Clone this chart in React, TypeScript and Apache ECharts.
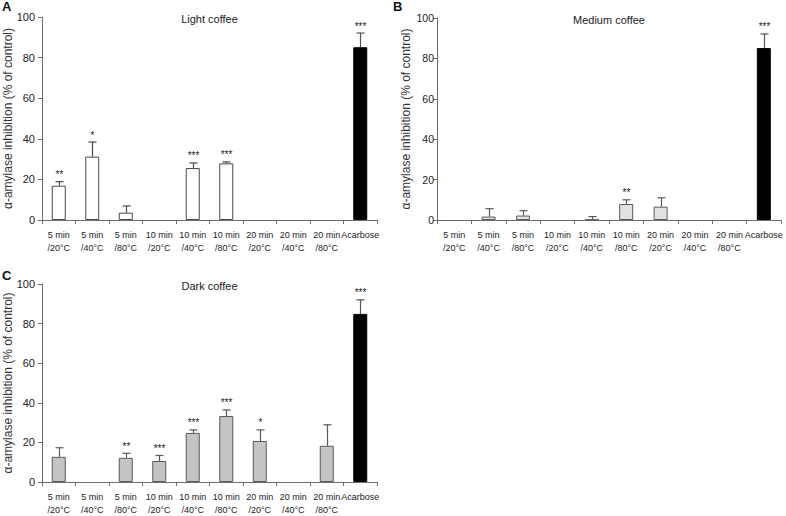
import React, { useEffect, useRef } from "react";
import * as echarts from "echarts";

const categories = [
  "5 min\n/20°C", "5 min\n/40°C", "5 min\n/80°C",
  "10 min\n/20°C", "10 min\n/40°C", "10 min\n/80°C",
  "20 min\n/20°C", "20 min\n/40°C", "20 min\n/80°C", "Acarbose",
];
const yTicks = [0, 20, 40, 60, 80, 100];

const lightValues = [16.9, 31.2, 3.6, 0, 25.6, 27.9, 0, 0, 0, 85.1];
const lightErrTop = [18.9, 38.4, 6.9, null, 28.1, 28.6, null, null, null, 92.1];
const lightStars = ["**", "*", "", "", "***", "***", "", "", "", "***"];

const mediumValues = [0, 1.7, 2.2, 0, 0.2, 7.9, 6.6, 0, 0, 85.1];
const mediumErrTop = [null, 5.6, 4.6, null, 1.7, 10.0, 11.0, null, null, 92.1];
const mediumStars = ["", "", "", "", "", "**", "", "", "", "***"];

const darkValues = [12.7, 0, 12.2, 10.6, 24.8, 33.3, 20.7, 0, 18.3, 84.9];
const darkErrTop = [17.3, null, 14.5, 13.4, 26.3, 36.4, 26.3, null, 28.9, 92.0];
const darkStars = ["", "", "**", "***", "***", "***", "*", "", "", "***"];

const panels = [
  { title: "Light coffee", letter: "A", values: lightValues, err: lightErrTop, stars: lightStars, fill: "#ffffff", border: "#4a4a4a",
    grid: { left: 42, top: 17, width: 335, height: 203 }, nameGap: 28, labelMargin: 7, labelSize: 11, letterPos: [2, 0] },
  { title: "Medium coffee", letter: "B", values: mediumValues, err: mediumErrTop, stars: mediumStars, fill: "#e2e2e2", border: "#5a5a5a",
    grid: { left: 437, top: 18, width: 344, height: 202 }, nameGap: 25, labelMargin: 3, labelSize: 10.5, letterPos: [393, 0] },
  { title: "Dark coffee", letter: "C", values: darkValues, err: darkErrTop, stars: darkStars, fill: "#c4c4c4", border: "#5a5a5a",
    grid: { left: 42, top: 284, width: 335, height: 204 }, nameGap: 28, labelMargin: 7, labelSize: 11, letterPos: [2, 269] },
];

const FONT = "Liberation Sans, Arial, Helvetica, sans-serif";

export default function App() {
  const ref = useRef<HTMLDivElement>(null);
  useEffect(() => {
    if (!ref.current) return;
    const chart = echarts.init(ref.current, null, { renderer: "svg" });
    const grids: any[] = [];
    const xAxes: any[] = [];
    const yAxes: any[] = [];
    const series: any[] = [];
    const graphics: any[] = [];

    panels.forEach((p, k) => {
      grids.push({ ...p.grid });
      xAxes.push({
        type: "category",
        gridIndex: k,
        data: categories,
        axisLine: { lineStyle: { color: "#6e6e6e", width: 1 } },
        axisTick: { show: true, length: 4, lineStyle: { color: "#6e6e6e" } },
        axisLabel: { interval: 0, color: "#222", fontSize: 9, fontFamily: FONT, lineHeight: 13, margin: 8 },
      });
      yAxes.push({
        type: "value",
        gridIndex: k,
        min: yTicks[0],
        max: yTicks[yTicks.length - 1],
        interval: yTicks[1] - yTicks[0],
        name: "α-amylase inhibition (% of control)",
        nameLocation: "middle",
        nameGap: p.nameGap,
        nameMoveOverlap: false,
        nameTextStyle: { color: "#333", fontSize: 12, fontFamily: FONT },
        axisLine: { show: true, lineStyle: { color: "#6e6e6e", width: 1 } },
        axisTick: { show: true, length: 4, lineStyle: { color: "#6e6e6e" } },
        axisLabel: { color: "#222", fontSize: p.labelSize, fontFamily: FONT, margin: p.labelMargin },
        splitLine: { show: false },
      });
      series.push({
        type: "bar",
        xAxisIndex: k,
        yAxisIndex: k,
        barWidth: 14,
        data: p.values.map((v, i) => ({
          value: v,
          itemStyle: i === categories.length - 1
            ? { color: "#000", borderColor: "#000", borderWidth: 1 }
            : v === 0
              ? { color: "rgba(0,0,0,0)", borderWidth: 0 }
              : { color: p.fill, borderColor: p.border, borderWidth: 1 },
        })),
      });
      const errData: any[] = [];
      p.values.forEach((v, i) => {
        if (p.err[i] != null) errData.push([i, v, p.err[i], p.stars[i]]);
      });
      series.push({
        type: "custom",
        xAxisIndex: k,
        yAxisIndex: k,
        z: 1,
        encode: { x: 0, y: [1, 2] },
        data: errData,
        renderItem: (params: any, api: any) => {
          const i = api.value(0);
          const lo = api.coord([i, api.value(1)]);
          const hi = api.coord([i, api.value(2)]);
          const stars = errData[params.dataIndex][3];
          const x = Math.round(lo[0]) + 0.5;
          const color = i === categories.length - 1 ? "#555" : p.border;
          const children: any[] = [
            { type: "line", shape: { x1: x, y1: lo[1], x2: x, y2: hi[1] }, style: { stroke: color, lineWidth: 1.2 } },
            { type: "line", shape: { x1: x - 4, y1: hi[1], x2: x + 4, y2: hi[1] }, style: { stroke: color, lineWidth: 1.2 } },
          ];
          if (stars) {
            children.push({
              type: "text",
              style: { text: stars, x: x, y: hi[1] - 2, align: "center", verticalAlign: "bottom", fontSize: 10, fontFamily: FONT, fill: "#222" },
            });
          }
          return { type: "group", children };
        },
      });
      graphics.push({
        type: "text",
        x: p.grid.left + p.grid.width / 2,
        y: p.grid.top - 4,
        style: { text: p.title, fontSize: 11, fontFamily: FONT, fill: "#222", align: "center" },
      });
      graphics.push({
        type: "text",
        x: p.letterPos[0],
        y: p.letterPos[1],
        style: { text: p.letter, fontSize: 13, fontWeight: "bold", fontFamily: FONT, fill: "#111" },
      });
    });

    chart.setOption({
      animation: false,
      backgroundColor: "#fff",
      grid: grids,
      xAxis: xAxes,
      yAxis: yAxes,
      series,
      graphic: graphics,
    });
    return () => chart.dispose();
  }, []);
  return <div ref={ref} style={{ position: "fixed", left: 0, top: 0, width: 786, height: 516 }} />;
}
